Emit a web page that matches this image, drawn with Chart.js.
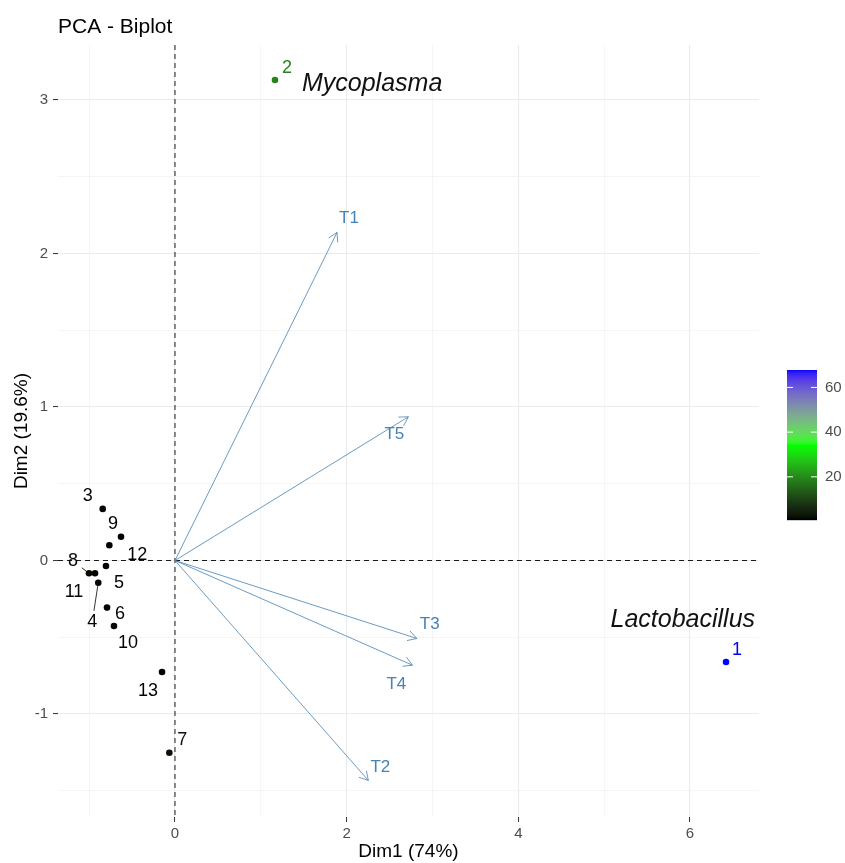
<!DOCTYPE html>
<html><head><meta charset="utf-8">
<script src="https://cdn.jsdelivr.net/npm/chart.js@4.4.0/dist/chart.umd.min.js"></script>
<style>html,body{margin:0;padding:0;background:#fff;} canvas{display:block;}</style>
</head><body>
<canvas id="c" width="845" height="863"></canvas>
<script>
// ---------- data ----------
const individuals = ['1','2','3','4','5','6','7','8','9','10','11','12','13'];
const dim1 = [6.420, 1.165, -0.842, -0.894, -0.804, -0.792, -0.066, -1.002, -0.629, -0.711, -0.932, -0.765, -0.151];
const dim2 = [-0.661, 3.130, 0.336, -0.145, -0.036, -0.307, -1.252, -0.083, 0.155, -0.427, -0.083, 0.099, -0.726];
const contrib = [67.8, 19.0, 1.35, 1.33, 1.05, 1.18, 2.5, 1.65, 0.70, 1.12, 1.43, 0.97, 0.90];
const variables = ['T1','T2','T3','T4','T5'];
const varDim1 = [1.888, 2.253, 2.817, 2.766, 2.719];
const varDim2 = [2.137, -1.433, -0.508, -0.682, 0.936];
const xTickValues = [-1,0,1,2,3,4,5,6];
const yTickValues = [-1.5,-1,-0.5,0,0.5,1,1.5,2,2.5,3];
const legendTicks = [20,40,60];
const taxonNames = ['Lactobacillus','Mycoplasma'];
const taxonIndividual = ['1','2'];
const titleText = 'PCA - Biplot';
const xTitle = 'Dim1 (74%)';
const yTitle = 'Dim2 (19.6%)';

// ---------- layout / style ----------
const FONT = '"Liberation Sans", Arial, sans-serif';
const STEEL = '#4682B4';
const indLabelOffset = {'1':[11,-12],'2':[12,-12],'3':[-15,-13],'4':[-6,39],'5':[13,17],'6':[13,6],'7':[13,-13],
  '8':[-16,-12],'9':[-8,-13],'10':[14,17],'11':[-21,19],'12':[28,10],'13':[-14,19]};
const indSegment = {'4':true,'8':true};
const varLabelOffset = {'T1':[12,-14],'T2':[12,-13],'T3':[13,-14],'T4':[-16,19],'T5':[-14,18]};
const taxonOffset = {'Lactobacillus':{dx:29,dy:-35,align:'right'},'Mycoplasma':{dx:27,dy:11,align:'left'}};
const gradStops = [[0,0,0],[0,255,0],[0,0,255]];

// ---------- colour ramp (CIELAB interpolation) ----------
function s2l(c){c/=255;return c<=0.04045?c/12.92:Math.pow((c+0.055)/1.055,2.4);}
function l2s(c){c=c<=0.0031308?12.92*c:1.055*Math.pow(Math.max(c,0),1/2.4)-0.055;return Math.round(Math.max(0,Math.min(1,c))*255);}
function rgbToLab(rgb){const R=s2l(rgb[0]),G=s2l(rgb[1]),B=s2l(rgb[2]);
  const X=(0.4124*R+0.3576*G+0.1805*B)/0.95047,Y=0.2126*R+0.7152*G+0.0722*B,Z=(0.0193*R+0.1192*G+0.9505*B)/1.08883;
  const f=t=>t>0.008856?Math.cbrt(t):7.787*t+16/116;const fx=f(X),fy=f(Y),fz=f(Z);
  return [116*fy-16,500*(fx-fy),200*(fy-fz)];}
function labToRgb(lab){const fy=(lab[0]+16)/116,fx=fy+lab[1]/500,fz=fy-lab[2]/200;
  const fi=t=>t>0.206893?t*t*t:(t-16/116)/7.787;const X=fi(fx)*0.95047,Y=fi(fy),Z=fi(fz)*1.08883;
  return [l2s(3.2406*X-1.5372*Y-0.4986*Z),l2s(-0.9689*X+1.8758*Y+0.0415*Z),l2s(0.0557*X-0.2040*Y+1.0570*Z)];}
const labStops = gradStops.map(rgbToLab);
const cMin = Math.min(...contrib), cMax = Math.max(...contrib);
function colourFor(v){
  let t=(v-cMin)/(cMax-cMin); t=Math.max(0,Math.min(1,t));
  const seg = t<0.5?0:1; const u = seg===0? t*2 : (t-0.5)*2;
  const a=labStops[seg], b=labStops[seg+1];
  const rgb=labToRgb([a[0]+(b[0]-a[0])*u,a[1]+(b[1]-a[1])*u,a[2]+(b[2]-a[2])*u]);
  return 'rgb('+rgb.join(',')+')';
}
const pointColours = contrib.map(colourFor);

// ---------- datasets ----------
const datasets = [{
  label:'individuals',
  data: individuals.map((n,i)=>({x:dim1[i],y:dim2[i]})),
  pointRadius:3.3, pointBackgroundColor:pointColours, pointBorderColor:pointColours, pointBorderWidth:0,
  showLine:false, order:0
}];
variables.forEach((v,i)=>{
  datasets.push({label:v, data:[{x:0,y:0},{x:varDim1[i],y:varDim2[i]}], showLine:true, pointRadius:0,
    borderColor:STEEL, borderWidth:0.8, order:1});
});

const isInt = v => Math.abs(v-Math.round(v))<1e-9;

const decor = {
  id:'decor',
  beforeDatasetsDraw(chart){
    const {ctx,chartArea:a,scales:{x,y}} = chart;
    ctx.save();
    ctx.strokeStyle='#000'; ctx.lineWidth=0.9; ctx.setLineDash([5,4]);
    const px=x.getPixelForValue(0), py=y.getPixelForValue(0);
    ctx.beginPath(); ctx.moveTo(px,a.top); ctx.lineTo(px,a.bottom); ctx.stroke();
    ctx.beginPath(); ctx.moveTo(a.left,py); ctx.lineTo(a.right,py); ctx.stroke();
    ctx.restore();
  },
  afterDatasetsDraw(chart){
    const {ctx,scales:{x,y}} = chart;
    ctx.save();
    // arrow heads
    ctx.strokeStyle=STEEL; ctx.lineWidth=0.8; ctx.setLineDash([]);
    const ox=x.getPixelForValue(0), oy=y.getPixelForValue(0);
    variables.forEach((v,i)=>{
      const ex=x.getPixelForValue(varDim1[i]), ey=y.getPixelForValue(varDim2[i]);
      const ang=Math.atan2(ey-oy,ex-ox), L=10, w=Math.PI/6;
      ctx.beginPath();
      ctx.moveTo(ex-L*Math.cos(ang-w), ey-L*Math.sin(ang-w));
      ctx.lineTo(ex,ey);
      ctx.lineTo(ex-L*Math.cos(ang+w), ey-L*Math.sin(ang+w));
      ctx.stroke();
      const o=varLabelOffset[v];
      ctx.fillStyle=STEEL; ctx.font='17px '+FONT; ctx.textAlign='center'; ctx.textBaseline='middle';
      ctx.fillText(v, ex+o[0], ey+o[1]);
    });
    // individual labels
    individuals.forEach((n,i)=>{
      const px=x.getPixelForValue(dim1[i]), py=y.getPixelForValue(dim2[i]);
      const o=indLabelOffset[n];
      const lx=px+o[0], ly=py+o[1];
      if(indSegment[n]){
        const d=Math.hypot(o[0],o[1]), ux=o[0]/d, uy=o[1]/d;
        ctx.strokeStyle='#000'; ctx.lineWidth=0.8;
        ctx.beginPath(); ctx.moveTo(px+ux*3,py+uy*3); ctx.lineTo(px+ux*(d-11),py+uy*(d-11)); ctx.stroke();
      }
      ctx.fillStyle=pointColours[i]; ctx.font='18px '+FONT; ctx.textAlign='center'; ctx.textBaseline='middle';
      ctx.fillText(n,lx,ly);
    });
    // taxon annotations
    taxonNames.forEach((t,k)=>{
      const i=individuals.indexOf(taxonIndividual[k]);
      const px=x.getPixelForValue(dim1[i]), py=y.getPixelForValue(dim2[i]);
      const o=taxonOffset[t];
      ctx.fillStyle='#111'; ctx.font='italic 25px '+FONT; ctx.textAlign=o.align; ctx.textBaseline='alphabetic';
      ctx.fillText(t,px+o.dx,py+o.dy);
    });
    ctx.restore();
  },
  afterDraw(chart){
    const {ctx,chartArea:a} = chart;
    ctx.save();
    // title
    ctx.fillStyle='#000'; ctx.font='21px '+FONT; ctx.textAlign='left'; ctx.textBaseline='alphabetic';
    ctx.fillText(titleText, a.left, 33);
    // axis titles
    ctx.font='19px '+FONT; ctx.textAlign='center';
    ctx.fillText(xTitle,(a.left+a.right)/2,857);
    ctx.save(); ctx.translate(27,(a.top+a.bottom)/2); ctx.rotate(-Math.PI/2);
    ctx.fillText(yTitle,0,0); ctx.restore();
    // colour bar
    const bx=787,bw=30,bt=370,bb=520;
    for(let yy=bt; yy<bb; yy++){
      const v=cMax-(yy+0.5-bt)/(bb-bt)*(cMax-cMin);
      ctx.fillStyle=colourFor(v); ctx.fillRect(bx,yy,bw,1.2);
    }
    ctx.strokeStyle='#fff'; ctx.lineWidth=1;
    ctx.fillStyle='#4d4d4d'; ctx.font='15px '+FONT; ctx.textAlign='left'; ctx.textBaseline='middle';
    legendTicks.forEach(v=>{
      const yy=bb-(v-cMin)/(cMax-cMin)*(bb-bt);
      ctx.beginPath(); ctx.moveTo(bx,yy); ctx.lineTo(bx+6,yy); ctx.moveTo(bx+bw-6,yy); ctx.lineTo(bx+bw,yy); ctx.stroke();
      ctx.fillText(String(v),bx+bw+8,yy);
    });
    ctx.restore();
  }
};

new Chart(document.getElementById('c'), {
  type:'scatter',
  data:{datasets},
  options:{
    responsive:false, animation:false, events:[],
    layout:{padding:{top:45,right:86,bottom:0,left:0}},
    plugins:{legend:{display:false},tooltip:{enabled:false},title:{display:false}},
    scales:{
      x:{type:'linear', min:-1.363, max:6.804,
        afterBuildTicks(s){ s.ticks = xTickValues.map(v=>({value:v})); },
        afterFit(s){ s.height = 46; },
        ticks:{autoSkip:false, maxRotation:0, color:'#4d4d4d', font:{family:FONT,size:15}, padding:3,
          callback:(v)=> (isInt(v/2) ? String(v) : '')},
        grid:{color:c=> (c.tick && isInt(c.tick.value/2)) ? '#ebebeb':'#f1f1f1',
          lineWidth:c=> (c.tick && isInt(c.tick.value/2)) ? 1.1:0.7,
          tickColor:c=> (c.tick && isInt(c.tick.value/2)) ? '#333':'rgba(0,0,0,0)', tickLength:5, tickWidth:1},
        border:{display:false}
      },
      y:{type:'linear', min:-1.671, max:3.358,
        afterBuildTicks(s){ s.ticks = yTickValues.map(v=>({value:v})); },
        afterFit(s){ s.width = 58; },
        ticks:{autoSkip:false, color:'#4d4d4d', font:{family:FONT,size:15}, padding:5,
          callback:(v)=> (isInt(v) ? String(v) : '')},
        grid:{color:c=> (c.tick && isInt(c.tick.value)) ? '#ebebeb':'#f1f1f1',
          lineWidth:c=> (c.tick && isInt(c.tick.value)) ? 1.1:0.7,
          tickColor:c=> (c.tick && isInt(c.tick.value)) ? '#333':'rgba(0,0,0,0)', tickLength:5, tickWidth:1},
        border:{display:false}
      }
    }
  },
  plugins:[decor]
});
</script>
</body></html>
